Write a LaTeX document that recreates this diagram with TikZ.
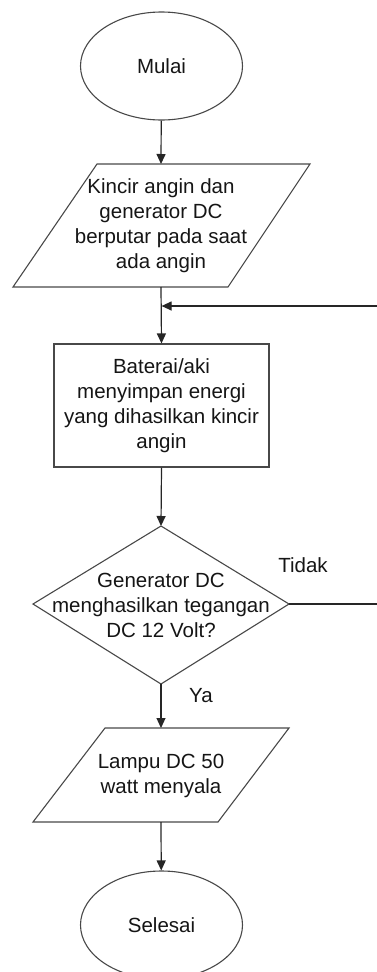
\documentclass[tikz,border=0pt]{standalone}
\usepackage{fontspec}
\setmainfont{Liberation Sans}
\usetikzlibrary{shapes.geometric,arrows.meta}
\definecolor{txt}{HTML}{151515}
\definecolor{edge}{HTML}{484848}
\begin{document}
\begin{tikzpicture}[x=1pt,y=-1pt,
  font=\fontsize{20.5}{25}\selectfont,
  every node/.style={text=txt},
  term/.style={ellipse,draw=edge,line width=1.1pt,minimum width=162pt,minimum height=108pt,inner sep=0pt},
  procbox/.style={rectangle,draw=edge,line width=1.1pt,minimum width=215pt,minimum height=123pt,inner sep=0pt,align=center},
  outline/.style={draw=edge,line width=1.1pt,line join=miter},
  label/.style={align=center,inner sep=0pt},
  arr/.style={draw=black!85,line width=1.2pt,-{Triangle[length=10pt,width=9pt]}},
  conn/.style={draw=black!85,line width=1.2pt}]
\useasboundingbox (0,0) rectangle (376,972);

% start
\node[term] (start) at (161.5,66) {Mulai};

% parallelogram 1
\draw[outline] (97,164) -- (310,164) -- (228,287) -- (13,287) -- cycle;
\coordinate (p1top) at (161,164);
\coordinate (p1bot) at (161,287);
\node[label] (p1) at (161,226) {Kincir angin dan\\generator DC\\berputar pada saat\\ada angin};

% battery box
\node[procbox] (bat) at (161.5,405.5) {Baterai/aki\\menyimpan energi\\yang dihasilkan kincir\\angin};

% decision diamond
\draw[outline] (161,526) -- (289,604) -- (161,684) -- (33,604) -- cycle;
\coordinate (dtop) at (161,526);
\coordinate (dright) at (289,604);
\coordinate (dbot) at (161,684);
\node[label] (dec) at (161,605) {Generator DC\\menghasilkan tegangan\\DC 12 Volt?};

% parallelogram 2
\draw[outline] (105,728) -- (289,728) -- (218,822) -- (33,822) -- cycle;
\coordinate (p2top) at (161,728);
\coordinate (p2bot) at (161,822);
\node[label] (p2) at (161,775.5) {Lampu DC 50\\watt menyala};

% end
\node[term] (stop) at (161.5,925) {Selesai};

% loop corner points
\coordinate (lr1) at (380,604);
\coordinate (lr2) at (380,306);
\coordinate (join) at (161.6,306);

% connectors
\draw[arr] (start) -- (p1top);
\draw[arr] (p1bot) -- (bat.north);
\draw[arr] (dright) -- (lr1) -- (lr2) -- (join);
\draw[arr] (bat.south) -- (dtop);
\draw[arr] (dbot) -- (p2top);
\draw[arr] (p2bot) -- (stop);

% labels
\node[label] (tidak) at (303,565) {Tidak};
\node[label] (ya) at (201,696) {Ya};
\end{tikzpicture}
\end{document}
